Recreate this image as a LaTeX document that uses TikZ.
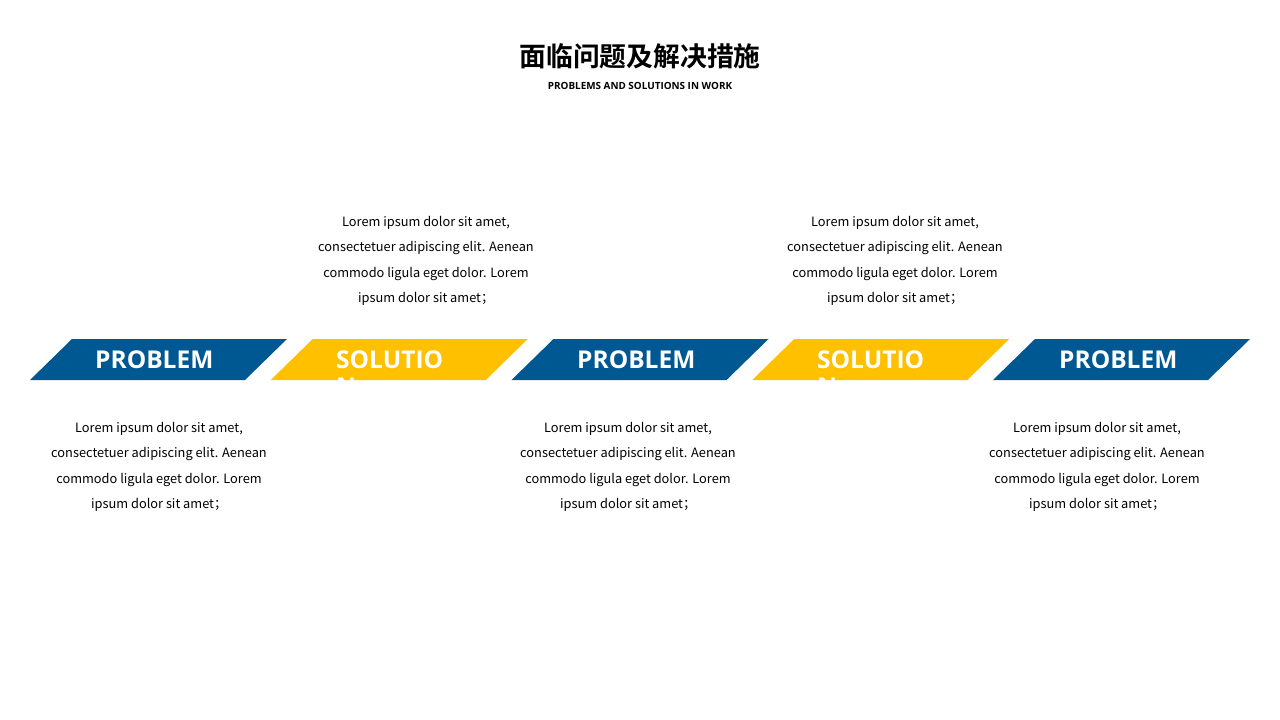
\documentclass[tikz,border=0pt]{standalone}
\usepackage{fontspec}
\setmainfont{Noto Sans}
\newfontfamily\cjk{Noto Sans CJK SC}
\newfontfamily\cjkb{Noto Sans CJK SC Bold}
\newfontfamily\bannerfont{Open Sans}
\definecolor{pblue}{HTML}{005893}
\definecolor{pyellow}{HTML}{FFC000}
\begin{document}
\begin{tikzpicture}[x=1pt,y=-1pt,
  bannertext/.style={text=white,font=\bannerfont\bfseries\fontsize{24.5}{30}\selectfont,anchor=base west,inner sep=0},
  body/.style={font=\cjk\fontsize{12.8}{25.3}\selectfont,align=center,text=black,inner sep=0}]
\useasboundingbox (0,0) rectangle (1280,720);
\fill[white] (0,0) rectangle (1280,720);
\node[font=\cjkb\fontsize{26.8}{30}\selectfont,inner sep=0] (title) at (640,56) {面临问题及解决措施};
\node[font=\bannerfont\bfseries\fontsize{9.9}{11}\selectfont,inner sep=0] (subtitle) at (640,86) {PROBLEMS AND SOLUTIONS IN WORK};
\foreach \i/\c in {0/pblue,1/pyellow,2/pblue,3/pyellow,4/pblue}{
  \pgfmathsetmacro{\xx}{30+240.75*\i}
  \fill[\c] (\xx,380) -- (\xx+42,339) -- (\xx+257,339) -- (\xx+215,380) -- cycle;
}
\node[bannertext] (b1) at (95,368) {PROBLEM};
\node[bannertext] (b2) at (336,368) {SOLUTIO};
\node[bannertext] (b2n) at (336,395) {N};
\node[bannertext] (b3) at (577,368) {PROBLEM};
\node[bannertext] (b4) at (817,368) {SOLUTIO};
\node[bannertext] (b4n) at (817,395) {N};
\node[bannertext] (b5) at (1059,368) {PROBLEM};
\fill[white] (0,381) rectangle (1280,400);
\newcommand\lorem{Lorem ipsum dolor sit amet,\\consectetuer adipiscing elit. Aenean\\commodo ligula eget dolor. Lorem\\ipsum dolor sit amet；}
\node[body] (t1) at (426,261) {\lorem};
\node[body] (t2) at (895,261) {\lorem};
\node[body] (t3) at (159,467) {\lorem};
\node[body] (t4) at (628,467) {\lorem};
\node[body] (t5) at (1097,467) {\lorem};
\end{tikzpicture}
\end{document}
